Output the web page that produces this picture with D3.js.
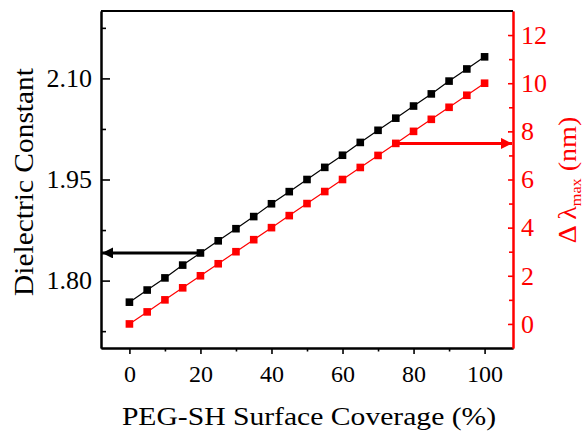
<!DOCTYPE html>
<html>
<head>
<meta charset="utf-8">
<script src="https://cdn.jsdelivr.net/npm/d3@7"></script>
<style>
  body { margin: 0; background: #fff; }
  svg text { font-family: "Liberation Serif", "Times New Roman", serif; }
</style>
</head>
<body>
<svg></svg>
<script>
const coverage = [0, 5, 10, 15, 20, 25, 30, 35, 40, 45, 50, 55, 60, 65, 70, 75, 80, 85, 90, 95, 100];
const dielectric = [1.768, 1.786, 1.804, 1.823, 1.841, 1.859, 1.877, 1.895, 1.914, 1.932, 1.950,
                    1.968, 1.986, 2.005, 2.023, 2.041, 2.059, 2.077, 2.096, 2.114, 2.132];
const shift = [0, 0.5, 1.0, 1.5, 2.0, 2.5, 3.0, 3.5, 4.0, 4.5, 5.0,
               5.5, 6.0, 6.5, 7.0, 7.5, 8.0, 8.5, 9.0, 9.5, 10.0];
const xTicks = [0, 20, 40, 60, 80, 100];
const leftTicks = [1.80, 1.95, 2.10];
const rightTicks = [0, 2, 4, 6, 8, 10, 12];
const arrowLeftAt = 20;   // coverage where the black arrow starts
const arrowRightAt = 75;  // coverage where the red arrow starts

const width = 588, height = 432;
const margin = {top: 11, right: 75, bottom: 84, left: 101};
const red = "#ff0000";
const serif = "Liberation Serif, Times New Roman, serif";

const svg = d3.select("svg").attr("width", width).attr("height", height);

svg.append("defs").selectAll("marker")
    .data([["headBlack", "#000"], ["headRed", red]])
    .enter().append("marker")
    .attr("id", d => d[0])
    .attr("viewBox", "0 0 10 10")
    .attr("refX", 10).attr("refY", 5)
    .attr("markerUnits", "userSpaceOnUse")
    .attr("markerWidth", 17).attr("markerHeight", 11)
    .attr("orient", "auto")
    .append("path")
    .attr("d", "M0,0L10,5L0,10z")
    .attr("fill", d => d[1]);

const x = d3.scaleLinear().domain([-8, 108]).range([margin.left, width - margin.right]);
const yL = d3.scaleLinear().domain([1.70, 2.20]).range([height - margin.bottom, margin.top]);
const yR = d3.scaleLinear().domain([-1, 13]).range([height - margin.bottom, margin.top]);

// bottom axis
const gx = svg.append("g").attr("transform", `translate(0,${height - margin.bottom})`);
gx.call(d3.axisBottom(x).tickValues(xTicks).tickSize(6).tickPadding(11).tickSizeOuter(0));
gx.append("g").call(d3.axisBottom(x).tickValues(d3.range(10, 101, 20)).tickSize(3.5).tickFormat("").tickSizeOuter(0));
gx.selectAll(".tick text").attr("font-size", 24);

// left axis
const gl = svg.append("g").attr("transform", `translate(${margin.left},0)`);
gl.call(d3.axisLeft(yL).tickValues(leftTicks).tickSize(-9).tickPadding(9).tickFormat(d3.format(".2f")).tickSizeOuter(0));
gl.append("g").call(d3.axisLeft(yL).tickValues([1.725, 1.875, 2.025, 2.175]).tickSize(-5).tickFormat("").tickSizeOuter(0));
gl.selectAll(".tick text").attr("font-size", 26);

// right axis
const gr = svg.append("g").attr("transform", `translate(${width - margin.right},0)`);
gr.call(d3.axisRight(yR).tickValues(rightTicks).tickSize(-5).tickPadding(8).tickSizeOuter(0));
gr.append("g").call(d3.axisRight(yR).tickValues(d3.range(1, 13, 2)).tickSize(-4).tickFormat("").tickSizeOuter(0));
gr.selectAll(".tick text").attr("font-size", 26).attr("fill", red);

svg.selectAll("g").attr("font-family", serif);
svg.selectAll(".domain").attr("stroke-width", 2);
svg.selectAll(".tick line").attr("stroke-width", 1.6);
gr.selectAll(".domain, .tick line").attr("stroke", red);

// top frame
svg.append("line")
    .attr("x1", margin.left).attr("x2", width - margin.right)
    .attr("y1", margin.top).attr("y2", margin.top)
    .attr("stroke", "#000").attr("stroke-width", 2);

// series
const series = [
    {vals: dielectric, y: yL, color: "#000"},
    {vals: shift, y: yR, color: red}
];
series.forEach(s => {
    const line = d3.line().x((d, i) => x(coverage[i])).y(d => s.y(d));
    svg.append("path").datum(s.vals)
        .attr("d", line).attr("fill", "none")
        .attr("stroke", s.color).attr("stroke-width", 1.2);
    svg.append("g").selectAll("rect").data(s.vals).enter().append("rect")
        .attr("x", (d, i) => x(coverage[i]) - 3.8)
        .attr("y", d => s.y(d) - 3.8)
        .attr("width", 7.6).attr("height", 7.6)
        .attr("fill", s.color);
});

// arrows
const iL = coverage.indexOf(arrowLeftAt), iR = coverage.indexOf(arrowRightAt);
svg.append("line")
    .attr("x1", x(arrowLeftAt)).attr("y1", yL(dielectric[iL]))
    .attr("x2", margin.left + 1).attr("y2", yL(dielectric[iL]))
    .attr("stroke", "#000").attr("stroke-width", 3)
    .attr("marker-end", "url(#headBlack)");
svg.append("line")
    .attr("x1", x(arrowRightAt)).attr("y1", yR(shift[iR]))
    .attr("x2", width - margin.right - 1).attr("y2", yR(shift[iR]))
    .attr("stroke", red).attr("stroke-width", 3)
    .attr("marker-end", "url(#headRed)");

// axis titles
svg.append("text")
    .attr("transform", `translate(309,425) scale(1.14,1)`)
    .attr("text-anchor", "middle").attr("font-size", 26)
    .text("PEG-SH Surface Coverage (%)");

svg.append("text")
    .attr("transform", `translate(33,182) rotate(-90) scale(1.09,1)`)
    .attr("text-anchor", "middle").attr("font-size", 27)
    .text("Dielectric Constant");

const rt = svg.append("text")
    .attr("transform", `translate(576,180) rotate(-90) scale(1.08,1)`)
    .attr("text-anchor", "middle").attr("font-size", 26).attr("fill", red);
rt.append("tspan").text("Δ λ");
rt.append("tspan").attr("font-size", 15).attr("dy", 5).text("max");
rt.append("tspan").attr("dy", -5).text(" (nm)");
</script>
</body>
</html>
